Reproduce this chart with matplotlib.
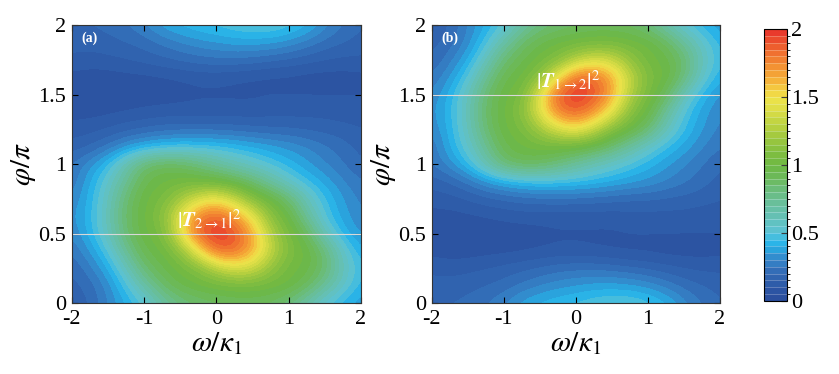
import numpy as np
import matplotlib
matplotlib.use('Agg')
import matplotlib.pyplot as plt
from matplotlib.colors import LinearSegmentedColormap, ListedColormap, BoundaryNorm

plt.rcParams['font.family'] = ['Liberation Serif', 'DejaVu Serif']
plt.rcParams['mathtext.fontset'] = 'stix'
plt.rcParams['axes.unicode_minus'] = False

# grid: omega/kappa1 columns, phi/pi rows
omega = [-2, -1.75, -1.5, -1.25, -1, -0.75, -0.5, -0.25, 0, 0.25, 0.5, 0.75, 1, 1.25, 1.5, 1.75, 2]
phi = [0, 0.125, 0.25, 0.375, 0.5, 0.625, 0.75, 0.875, 1, 1.125, 1.25, 1.375, 1.5, 1.625, 1.75, 1.875, 2]

# |T_{2->1}|^2, rows from phi = 0 to phi = 2
t21 = [
    [0.15, 0.20, 0.30, 0.40, 0.50, 0.68, 0.80, 0.85, 0.88, 0.90, 0.90, 0.88, 0.80, 0.65, 0.50, 0.42, 0.36],
    [0.18, 0.22, 0.32, 0.48, 0.68, 0.87, 0.96, 1.00, 1.02, 1.04, 1.04, 1.02, 1.00, 0.90, 0.72, 0.55, 0.42],
    [0.20, 0.28, 0.40, 0.60, 0.85, 0.95, 1.02, 1.10, 1.28, 1.40, 1.35, 1.15, 1.02, 0.98, 0.85, 0.60, 0.45],
    [0.25, 0.35, 0.50, 0.75, 0.95, 1.00, 1.15, 1.50, 1.85, 1.85, 1.65, 1.32, 1.08, 1.00, 0.82, 0.55, 0.40],
    [0.30, 0.42, 0.60, 0.85, 1.00, 1.05, 1.45, 1.90, 2.00, 1.92, 1.65, 1.25, 1.05, 0.90, 0.60, 0.42, 0.33],
    [0.33, 0.43, 0.62, 0.88, 1.00, 1.12, 1.45, 1.78, 1.88, 1.72, 1.45, 1.12, 0.98, 0.72, 0.48, 0.37, 0.30],
    [0.30, 0.42, 0.60, 0.85, 1.00, 1.05, 1.22, 1.40, 1.48, 1.32, 1.10, 1.00, 0.85, 0.60, 0.45, 0.35, 0.28],
    [0.25, 0.40, 0.55, 0.75, 0.95, 1.00, 1.02, 1.02, 1.00, 0.95, 0.85, 0.70, 0.55, 0.45, 0.38, 0.30, 0.25],
    [0.25, 0.33, 0.45, 0.65, 0.85, 0.92, 0.90, 0.82, 0.72, 0.62, 0.55, 0.48, 0.42, 0.36, 0.30, 0.25, 0.20],
    [0.17, 0.20, 0.26, 0.34, 0.40, 0.44, 0.46, 0.46, 0.45, 0.43, 0.40, 0.37, 0.34, 0.30, 0.26, 0.22, 0.18],
    [0.12, 0.13, 0.15, 0.18, 0.20, 0.22, 0.23, 0.23, 0.23, 0.22, 0.21, 0.20, 0.20, 0.19, 0.18, 0.17, 0.15],
    [0.08, 0.08, 0.09, 0.10, 0.11, 0.12, 0.12, 0.12, 0.12, 0.12, 0.12, 0.13, 0.13, 0.13, 0.13, 0.12, 0.12],
    [0.06, 0.05, 0.05, 0.06, 0.07, 0.07, 0.08, 0.09, 0.09, 0.09, 0.09, 0.10, 0.10, 0.10, 0.10, 0.10, 0.10],
    [0.08, 0.07, 0.07, 0.08, 0.08, 0.09, 0.10, 0.11, 0.11, 0.10, 0.09, 0.08, 0.08, 0.07, 0.07, 0.07, 0.08],
    [0.14, 0.13, 0.14, 0.15, 0.17, 0.19, 0.21, 0.23, 0.24, 0.24, 0.23, 0.21, 0.19, 0.17, 0.15, 0.14, 0.14],
    [0.17, 0.17, 0.18, 0.20, 0.22, 0.26, 0.30, 0.33, 0.35, 0.37, 0.37, 0.36, 0.33, 0.28, 0.23, 0.20, 0.18],
    [0.20, 0.20, 0.22, 0.25, 0.30, 0.38, 0.42, 0.45, 0.47, 0.50, 0.52, 0.52, 0.48, 0.42, 0.32, 0.25, 0.20],
]

# |T_{1->2}|^2, rows from phi = 0 to phi = 2 (panel b looks like panel a upside down)
t12 = [
    [0.20, 0.20, 0.22, 0.25, 0.30, 0.38, 0.42, 0.45, 0.47, 0.50, 0.52, 0.52, 0.48, 0.42, 0.32, 0.25, 0.20],
    [0.17, 0.17, 0.18, 0.20, 0.22, 0.26, 0.30, 0.33, 0.35, 0.37, 0.37, 0.36, 0.33, 0.28, 0.23, 0.20, 0.18],
    [0.14, 0.13, 0.14, 0.15, 0.17, 0.19, 0.21, 0.23, 0.24, 0.24, 0.23, 0.21, 0.19, 0.17, 0.15, 0.14, 0.14],
    [0.08, 0.07, 0.07, 0.08, 0.08, 0.09, 0.10, 0.11, 0.11, 0.10, 0.09, 0.08, 0.08, 0.07, 0.07, 0.07, 0.08],
    [0.06, 0.05, 0.05, 0.06, 0.07, 0.07, 0.08, 0.09, 0.09, 0.09, 0.09, 0.10, 0.10, 0.10, 0.10, 0.10, 0.10],
    [0.08, 0.08, 0.09, 0.10, 0.11, 0.12, 0.12, 0.12, 0.12, 0.12, 0.12, 0.13, 0.13, 0.13, 0.13, 0.12, 0.12],
    [0.12, 0.13, 0.15, 0.18, 0.20, 0.22, 0.23, 0.23, 0.23, 0.22, 0.21, 0.20, 0.20, 0.19, 0.18, 0.17, 0.15],
    [0.17, 0.20, 0.26, 0.34, 0.40, 0.44, 0.46, 0.46, 0.45, 0.43, 0.40, 0.37, 0.34, 0.30, 0.26, 0.22, 0.18],
    [0.25, 0.33, 0.45, 0.65, 0.85, 0.92, 0.90, 0.82, 0.72, 0.62, 0.55, 0.48, 0.42, 0.36, 0.30, 0.25, 0.20],
    [0.25, 0.40, 0.55, 0.75, 0.95, 1.00, 1.02, 1.02, 1.00, 0.95, 0.85, 0.70, 0.55, 0.45, 0.38, 0.30, 0.25],
    [0.30, 0.42, 0.60, 0.85, 1.00, 1.05, 1.22, 1.40, 1.48, 1.32, 1.10, 1.00, 0.85, 0.60, 0.45, 0.35, 0.28],
    [0.33, 0.43, 0.62, 0.88, 1.00, 1.12, 1.45, 1.78, 1.88, 1.72, 1.45, 1.12, 0.98, 0.72, 0.48, 0.37, 0.30],
    [0.30, 0.42, 0.60, 0.85, 1.00, 1.05, 1.45, 1.90, 2.00, 1.92, 1.65, 1.25, 1.05, 0.90, 0.60, 0.42, 0.33],
    [0.25, 0.35, 0.50, 0.75, 0.95, 1.00, 1.15, 1.50, 1.85, 1.85, 1.65, 1.32, 1.08, 1.00, 0.82, 0.55, 0.40],
    [0.20, 0.28, 0.40, 0.60, 0.85, 0.95, 1.02, 1.10, 1.28, 1.40, 1.35, 1.15, 1.02, 0.98, 0.85, 0.60, 0.45],
    [0.18, 0.22, 0.32, 0.48, 0.68, 0.87, 0.96, 1.00, 1.02, 1.04, 1.04, 1.02, 1.00, 0.90, 0.72, 0.55, 0.42],
    [0.15, 0.20, 0.30, 0.40, 0.50, 0.68, 0.80, 0.85, 0.88, 0.90, 0.90, 0.88, 0.80, 0.65, 0.50, 0.42, 0.36],
]

x_ticks = [-2, -1, 0, 1, 2]
x_labels = ['-2', '-1', '0', '1', '2']
y_ticks = [0, 0.5, 1, 1.5, 2]
y_labels = ['0', '0.5', '1', '1.5', '2']

# colour anchors taken from the colour bar (value, colour)
_ANCHORS = [
    (0.0, '#2b4c9b'), (0.1, '#2d58a6'), (0.2, '#3268b3'), (0.3, '#3584c8'),
    (0.38, '#2aa5de'), (0.43, '#2bb6e9'), (0.5, '#5ac3d6'), (0.6, '#64c1bb'),
    (0.75, '#6abe92'), (0.9, '#6cba5e'), (1.0, '#6db843'), (1.15, '#8ec23f'),
    (1.3, '#bcd240'), (1.45, '#e6e149'), (1.5, '#efe34a'), (1.6, '#f5bf3d'),
    (1.7, '#f49a34'), (1.85, '#ef6a2f'), (2.0, '#e8312c'),
]
_NLEV = 40


def make_cmap():
    smooth = LinearSegmentedColormap.from_list('jetlike', [(v / 2, c) for v, c in _ANCHORS])
    centers = (np.arange(_NLEV) + 0.5) / _NLEV
    cmap = ListedColormap(smooth(centers))
    norm = BoundaryNorm(np.linspace(0, 2, _NLEV + 1), cmap.N, clip=True)
    return cmap, norm


def draw_panel(ax, data, cmap, norm, tag, label, label_pos, line_y):
    dx = (omega[1] - omega[0]) / 2
    dy = (phi[1] - phi[0]) / 2
    im = ax.imshow(np.array(data), origin='lower', aspect='auto', cmap=cmap, norm=norm,
                   interpolation='bicubic', interpolation_stage='data',
                   extent=[omega[0] - dx, omega[-1] + dx, phi[0] - dy, phi[-1] + dy])
    ax.set_xlim(-2, 2)
    ax.set_ylim(0, 2)
    ax.axhline(line_y, color='#d8d8d8', lw=0.8)
    ax.set_xticks(x_ticks, x_labels)
    ax.set_yticks(y_ticks, y_labels)
    ax.tick_params(direction='in', top=True, right=True, length=4, width=0.8, labelsize=16)
    ax.tick_params(axis='x', pad=5)
    ax.tick_params(axis='y', pad=4)
    ax.set_xlabel(r'$\omega/\kappa_1$', fontsize=21, labelpad=1)
    ax.set_ylabel(r'$\varphi/\pi$', fontsize=21, labelpad=0)
    ax.text(0.035, 0.975, tag, transform=ax.transAxes, color='white', fontsize=10,
            fontweight='bold', ha='left', va='top')
    ax.text(label_pos[0], label_pos[1], label, color='white', fontsize=15, ha='center', va='center')
    for sp in ax.spines.values():
        sp.set_linewidth(0.8)
        sp.set_color('#333333')
    return im


def main():
    cmap, norm = make_cmap()
    fig = plt.figure(figsize=(8.39, 3.74), dpi=100)
    ax_a = fig.add_axes([0.0855, 0.1898, 0.3448, 0.7433])
    ax_b = fig.add_axes([0.5145, 0.1898, 0.3436, 0.7433])
    cax = fig.add_axes([0.9106, 0.196, 0.027, 0.7257])

    im = draw_panel(ax_a, t21, cmap, norm, '(a)',
                    r'$\left|\mathbfit{T}_{2\rightarrow 1}\right|^2$', (-0.1, 0.6), 0.5)
    draw_panel(ax_b, t12, cmap, norm, '(b)',
               r'$\left|\mathbfit{T}_{1\rightarrow 2}\right|^2$', (-0.1, 1.6), 1.5)

    cb = fig.colorbar(im, cax=cax, ticks=y_ticks, drawedges=True)
    cb.ax.set_yticklabels(y_labels)
    cb.ax.tick_params(direction='in', length=4, width=0.8, labelsize=16, pad=3)
    cb.dividers.set_color('white')
    cb.dividers.set_alpha(0.35)
    cb.dividers.set_linewidth(0.5)
    cb.outline.set_linewidth(0.8)

    fig.savefig('out.png', dpi=100)
    plt.close(fig)


if __name__ == '__main__':
    main()
